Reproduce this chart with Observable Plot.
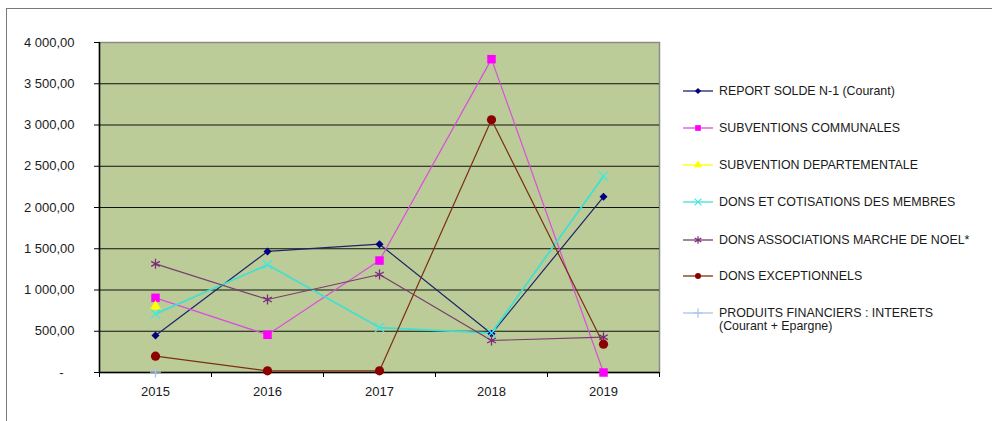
<!DOCTYPE html>
<html>
<head>
<meta charset="utf-8">
<script src="https://cdn.jsdelivr.net/npm/d3@7"></script>
<script src="https://cdn.jsdelivr.net/npm/@observablehq/plot@0.6"></script>
<style>
  html, body { margin: 0; padding: 0; background: #fff; overflow: hidden; }
  #wrap { position: relative; width: 992px; height: 421px; font-family: "Liberation Sans", Arial, sans-serif; }
  #frame { position: absolute; left: 6px; top: 8px; width: 1100px; height: 500px; border-left: 1.5px solid #7a7a7a; border-top: 1.5px solid #7a7a7a; box-sizing: border-box; }
  #chart { position: absolute; left: 0; top: 0; }
  #legend { position: absolute; left: 683px; top: 0; }
  .item { position: absolute; left: 0; display: flex; align-items: flex-start; white-space: nowrap; font-size: 12.4px; color: #1a1a1a; }
  .item svg { display: block; margin-right: 5px; }
  .item .txt { line-height: 13px; padding-top: 0.5px; }
</style>
</head>
<body>
<div id="wrap">
  <div id="frame"></div>
  <div id="chart"></div>
  <div id="legend"></div>
</div>
<script>
// ---- data ----
const years = [2015, 2016, 2017, 2018, 2019];
const seriesNames = [
  "REPORT SOLDE N-1 (Courant)",
  "SUBVENTIONS COMMUNALES",
  "SUBVENTION DEPARTEMENTALE",
  "DONS ET COTISATIONS DES MEMBRES",
  "DONS ASSOCIATIONS MARCHE DE NOEL*",
  "DONS EXCEPTIONNELS",
  "PRODUITS FINANCIERS : INTERETS\n(Courant + Epargne)"
];
const reportSolde = [448, 1467, 1555, 469, 2130];
const subventionsCommunales = [905, 457, 1357, 3798, 0];
const subventionDepartementale = [800, null, null, null, null];
const donsCotisations = [711, 1305, 545, 478, 2380];
const donsNoel = [1317, 885, 1188, 388, 428];
const donsExceptionnels = [198, 20, 20, 3063, 343];
const produitsFinanciers = [5, null, null, null, null];
const yTicks = [0, 500, 1000, 1500, 2000, 2500, 3000, 3500, 4000];
const gridValues = [500, 1000, 1500, 2000, 2500, 3000, 3500];
const categoryBounds = [2014.5, 2015.5, 2016.5, 2017.5, 2018.5, 2019.5];

const seriesValues = [reportSolde, subventionsCommunales, subventionDepartementale, donsCotisations, donsNoel, donsExceptionnels, produitsFinanciers];

// styles
const styles = [
  {line: "#1c2466", mark: "#000080", symbol: "diamond2", filled: true, r: 3.6, lr: 2.8, sw: 1.2},
  {line: "#d94fd9", mark: "#ff00ff", symbol: "square", filled: true, r: 4.8, lr: 3.2, sw: 1.2},
  {line: "#ffff00", mark: "#ffff00", symbol: "triangle", filled: true, r: 4.2, lr: 3, sw: 1.2},
  {line: "#40e0d0", mark: "#40e8e0", symbol: "times", filled: false, r: 4.2, lr: 3.2, sw: 1.8},
  {line: "#7a3d6e", mark: "#7a2a7a", symbol: "asterisk", filled: false, r: 4.7, lr: 3.6, sw: 1.2},
  {line: "#7a3010", mark: "#8b0000", symbol: "circle", filled: true, r: 4.6, lr: 3, sw: 1.2},
  {line: "#a8c4e8", mark: "#a8c4e8", symbol: "plus", filled: false, r: 3.6, lr: 3.2, sw: 1.2}
];

const frLocale = d3.formatLocale({decimal: ",", thousands: " ", grouping: [3], currency: ["", ""]});
const fmt2 = frLocale.format(",.2f");
const yFormat = v => v === 0 ? "-\u00a0\u00a0\u00a0" : fmt2(v);

const rows = [];
seriesValues.forEach((vals, s) => {
  years.forEach((yr, i) => rows.push({series: s, year: yr, value: vals[i]}));
});

const marks = [
  Plot.frame({fill: "#bccc99", stroke: "#8a8a8a", strokeWidth: 1.5}),
  Plot.ruleY(gridValues, {stroke: "#111", strokeWidth: 1.1}),
  Plot.ruleX([categoryBounds[0]], {stroke: "#000", strokeWidth: 1.5}),
  Plot.ruleY([0], {stroke: "#000", strokeWidth: 1.5}),
  Plot.axisY({ticks: yTicks, tickSize: 5, tickPadding: 20, tickFormat: yFormat, fontSize: 13, label: null, stroke: "#000"}),
  Plot.axisX(categoryBounds, {tickSize: 5, tickFormat: () => "", label: null, stroke: "#000"}),
  Plot.axisX(years, {tickSize: 0, tickPadding: 14, tickFormat: d => String(d), fontSize: 13, label: null})
];

seriesValues.forEach((vals, s) => {
  const st = styles[s];
  const data = rows.filter(d => d.series === s);
  marks.push(Plot.line(data, {x: "year", y: "value", stroke: st.line, strokeWidth: st.sw, defined: d => d.value != null}));
});
seriesValues.forEach((vals, s) => {
  const st = styles[s];
  const data = rows.filter(d => d.series === s && d.value != null);
  marks.push(Plot.dot(data, {
    x: "year", y: "value", symbol: st.symbol, r: st.r,
    fill: st.filled ? st.mark : "none",
    stroke: st.filled ? "none" : st.mark,
    strokeWidth: st.filled ? 0 : 1.3
  }));
});

const chart = Plot.plot({
  width: 992,
  height: 421,
  marginLeft: 99,
  marginRight: 333,
  marginTop: 42,
  marginBottom: 49,
  x: {domain: [2014.5, 2019.5]},
  y: {domain: [0, 4000]},
  style: {fontFamily: "'Liberation Sans', Arial, sans-serif", color: "#1a1a1a", background: "transparent", overflow: "visible"},
  marks
});
document.getElementById("chart").appendChild(chart);

// ---- legend ----
const legendRows = [91, 128, 165, 202, 240, 276, 313];
const legend = d3.select("#legend");
seriesNames.forEach((name, s) => {
  const st = styles[s];
  const lines = name.split("\n");
  const item = legend.append("div").attr("class", "item")
    .style("top", (legendRows[s] - 7) + "px");
  const svg = item.append("svg").attr("width", 31).attr("height", 14);
  svg.append("line").attr("x1", 0).attr("x2", 30).attr("y1", 7).attr("y2", 7)
    .attr("stroke", st.line).attr("stroke-width", 1.3);
  const sym = d3.symbol(d3["symbol" + st.symbol[0].toUpperCase() + st.symbol.slice(1)], st.lr * st.lr * Math.PI);
  svg.append("path").attr("d", sym()).attr("transform", "translate(15,7)")
    .attr("fill", st.filled ? st.mark : "none")
    .attr("stroke", st.filled ? "none" : st.mark)
    .attr("stroke-width", 1.2);
  const t = item.append("div").attr("class", "txt");
  lines.forEach((ln, k) => {
    if (k > 0) t.append("br");
    t.append(() => document.createTextNode(ln));
  });
});
</script>
</body>
</html>
